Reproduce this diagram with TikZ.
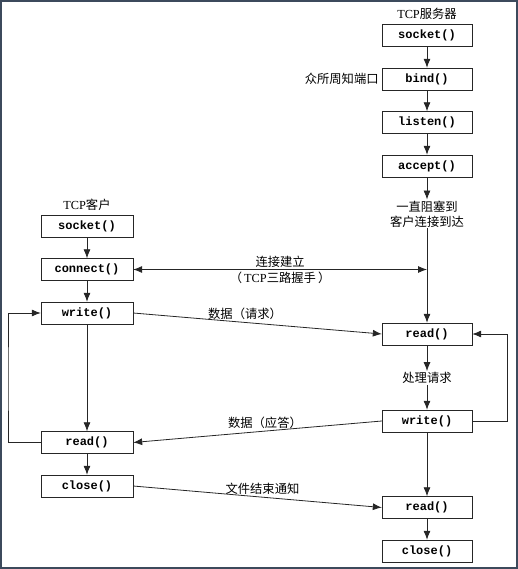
\documentclass[tikz,border=0pt]{standalone}
\usepackage{fontspec}
\setmainfont{Liberation Serif}
\setmonofont{Liberation Mono}
\newfontfamily\cjk{Noto Sans CJK SC}
\usetikzlibrary{arrows.meta, positioning, calc}
\definecolor{framecol}{HTML}{3C4A5C}

\begin{document}
\begin{tikzpicture}[x=1pt,y=-1pt,>={Latex[length=9pt,width=7pt]},
    func/.style={draw=black!85, fill=white, minimum width=90pt, minimum height=22pt,
      inner sep=0pt, font=\fontsize{12}{14}\selectfont\ttfamily\bfseries},
    lbl/.style={font=\fontsize{12.3}{15}\selectfont, inner sep=1pt, align=center},
    flow/.style={->, draw=black!85, line width=0.8pt}]
    % frame and size of the picture
    \useasboundingbox (0,0) rectangle (518,569);
    \draw[draw=framecol, line width=1.6pt] (0.8,0.8) rectangle (516.8,567.8);

    % the server side
    \node[lbl] (srvtitle) at (427,14) {TCP{\cjk 服务器}};
    \node[func] (srvsocket) at (427,35.5) {socket()};
    \node[func] (srvbind)   at (427,79)   {bind()};
    \node[func] (srvlisten) at (427,122.5) {listen()};
    \node[func] (srvaccept) at (427,166)  {accept()};
    \node[lbl, left=2pt of srvbind] (port) {\cjk 众所周知端口};
    \node[lbl] (blocked) at (427,214) {\cjk 一直阻塞到\\ \cjk 客户连接到达};
    \node[func] (srvread)  at (427,334)   {read()};
    \node[lbl] (process) at (427,378) {\cjk 处理请求};
    \node[func] (srvwrite) at (427,421)   {write()};
    \node[func] (srvread2) at (427,507.5) {read()};
    \node[func] (srvclose) at (427,551)   {close()};

    % the client side
    \node[lbl] (clititle) at (87,205) {TCP{\cjk 客户}};
    \node[func, minimum width=92pt] (clisocket)  at (87,226)   {socket()};
    \node[func, minimum width=92pt] (cliconnect) at (87,269.5) {connect()};
    \node[func, minimum width=92pt] (cliwrite)   at (87,313)   {write()};
    \node[func, minimum width=92pt] (cliread)    at (87,442.5) {read()};
    \node[func, minimum width=92pt] (cliclose)   at (87,486)   {close()};

    % helper points
    \coordinate (srvjoin) at (427,269.5);
    \coordinate (rloop) at (507,380);
    \coordinate (lloop) at (8,380);

    % server calls
    \draw[flow] (srvsocket) -- (srvbind);
    \draw[flow] (srvbind) -- (srvlisten);
    \draw[flow] (srvlisten) -- (srvaccept);
    \draw[flow] (srvaccept) -- (blocked);
    \draw[flow] (blocked) -- (srvread);
    \draw[flow] (srvread) -- (process);
    \draw[flow] (process) -- (srvwrite);
    \draw[flow] (srvwrite) -- (srvread2);
    \draw[flow] (srvread2) -- (srvclose);
    \draw[flow] (srvwrite.east) -| (rloop) |- (srvread.east);

    % client calls
    \draw[flow] (clisocket) -- (cliconnect);
    \draw[flow] (cliconnect) -- (cliwrite);
    \draw[flow] (cliwrite) -- (cliread);
    \draw[flow] (cliread) -- (cliclose);
    \draw[flow] (cliread.west) -| (lloop) |- (cliwrite.west);

    % between client and server
    \draw[flow, <->] (cliconnect.east) -- (srvjoin)
      node[lbl, midway, above=1pt] {\cjk 连接建立}
      node[lbl, midway, below=1pt] {{\cjk （}\,TCP{\cjk 三路握手\,）}};
    \draw[flow] (cliwrite.east) -- (srvread.west)
      node[lbl, pos=0.45, above=1pt] {\cjk 数据（请求）};
    \draw[flow] (srvwrite.west) -- (cliread.east)
      node[lbl, pos=0.47, above=1pt] {\cjk 数据（应答）};
    \draw[flow] (cliclose.east) -- (srvread2.west)
      node[lbl, pos=0.52, above=1pt] {\cjk 文件结束通知};
  \end{tikzpicture}
\end{document}
